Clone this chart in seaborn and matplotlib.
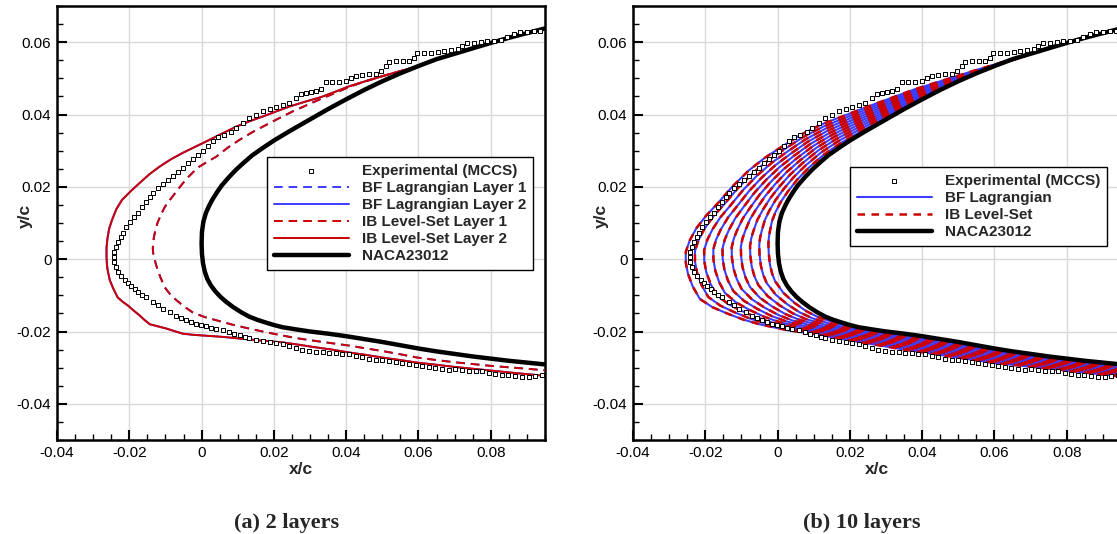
import matplotlib
matplotlib.use("Agg")
import numpy as np
import matplotlib.pyplot as plt
import seaborn as sns
from matplotlib.ticker import MultipleLocator, FuncFormatter

# ---- data (x/c, y/c) ----

# NACA23012 leading edge region (upper surface aft -> LE -> lower surface aft)
naca_pts = [
    (0.098, 0.0645), (0.095, 0.0638), (0.090, 0.0625), (0.085, 0.0612), (0.080, 0.0598), (0.075, 0.0583),
    (0.070, 0.0568), (0.065, 0.0553), (0.060, 0.0534), (0.055, 0.0514), (0.050, 0.0492), (0.045, 0.0468),
    (0.040, 0.0442), (0.035, 0.0415), (0.0315, 0.0395), (0.028, 0.0375), (0.024, 0.0352), (0.020, 0.0328),
    (0.017, 0.0308), (0.014, 0.0287), (0.0118, 0.0268), (0.0095, 0.0247), (0.0075, 0.0226), (0.0055, 0.0203),
    (0.0042, 0.0184), (0.003, 0.0165), (0.0021, 0.0148), (0.0012, 0.0128), (0.0005, 0.0104), (0.0001, 0.0075),
    (0.0, 0.0044), (0.0001, 0.0015), (0.0004, -0.0012), (0.0009, -0.0035), (0.0016, -0.0055), (0.0026, -0.0073),
    (0.0038, -0.0089), (0.0052, -0.0104), (0.0068, -0.0118), (0.0088, -0.0133), (0.011, -0.0147),
    (0.0132, -0.0159), (0.0155, -0.0168), (0.018, -0.0176), (0.020, -0.0182), (0.0223, -0.0188),
    (0.026, -0.0194), (0.030, -0.0200), (0.035, -0.0206), (0.040, -0.0213), (0.045, -0.0221), (0.050, -0.0229),
    (0.055, -0.0238), (0.060, -0.0247), (0.065, -0.0255), (0.070, -0.0262), (0.075, -0.0269), (0.080, -0.0275),
    (0.085, -0.0281), (0.090, -0.0286), (0.095, -0.0291), (0.098, -0.0295),
]

# experimental ice shape (MCCS)
exp_pts = [
    (0.0937, 0.0632), (0.0919, 0.0630), (0.0900, 0.0629), (0.0882, 0.0627), (0.0864, 0.0622),
    (0.0845, 0.0613), (0.0827, 0.0606), (0.0809, 0.0604), (0.0790, 0.0603), (0.0772, 0.0601),
    (0.0754, 0.0599), (0.0735, 0.0597), (0.0721, 0.0590), (0.0708, 0.0580), (0.0689, 0.0578),
    (0.0671, 0.0576), (0.0653, 0.0573), (0.0634, 0.0571), (0.0616, 0.0571), (0.0597, 0.0569),
    (0.0588, 0.0557), (0.0574, 0.0548), (0.0556, 0.0548), (0.0537, 0.0547), (0.0519, 0.0545),
    (0.0510, 0.0533), (0.0496, 0.0520), (0.0482, 0.0513), (0.0464, 0.0511), (0.0445, 0.0509),
    (0.0427, 0.0507), (0.0413, 0.0501), (0.0399, 0.0492), (0.0381, 0.0491), (0.0362, 0.0490),
    (0.0344, 0.0489), (0.0330, 0.0471), (0.0316, 0.0465), (0.0303, 0.0462), (0.0289, 0.0460),
    (0.0275, 0.0456), (0.0261, 0.0446), (0.0243, 0.0432), (0.0224, 0.0425), (0.0206, 0.0421),
    (0.0188, 0.0414), (0.0169, 0.0409), (0.0151, 0.0400), (0.0132, 0.0391), (0.0114, 0.0377),
    (0.0096, 0.0363), (0.0082, 0.0351), (0.0063, 0.0342), (0.0045, 0.0337), (0.0031, 0.0326),
    (0.0017, 0.0312), (0.0004, 0.0298), (-0.0010, 0.0289), (-0.0024, 0.0277), (-0.0038, 0.0266),
    (-0.0052, 0.0252), (-0.0065, 0.0240), (-0.0079, 0.0231), (-0.0093, 0.0219), (-0.0107, 0.0208),
    (-0.0121, 0.0196), (-0.0134, 0.0182), (-0.0143, 0.0172), (-0.0153, 0.0159), (-0.0164, 0.0144),
    (-0.0176, 0.0127), (-0.0188, 0.0116), (-0.0199, 0.0104), (-0.0208, 0.0088), (-0.0217, 0.0071),
    (-0.0224, 0.0060), (-0.0231, 0.0048), (-0.0237, 0.0034), (-0.0242, 0.0020), (-0.0243, 0.0006),
    (-0.0242, -0.0007), (-0.0237, -0.0021), (-0.0231, -0.0035), (-0.0222, -0.0047), (-0.0212, -0.0058),
    (-0.0203, -0.0067), (-0.0194, -0.0075), (-0.0185, -0.0083), (-0.0176, -0.0091), (-0.0165, -0.0098),
    (-0.0153, -0.0105), (-0.0134, -0.0119), (-0.0121, -0.0128), (-0.0107, -0.0137), (-0.0088, -0.0146),
    (-0.0070, -0.0156), (-0.0056, -0.0162), (-0.0042, -0.0168), (-0.0028, -0.0174), (-0.0015, -0.0179),
    (-0.0001, -0.0183), (0.0013, -0.0186), (0.0027, -0.0190), (0.0040, -0.0193), (0.0059, -0.0197),
    (0.0077, -0.0202), (0.0091, -0.0206), (0.0105, -0.0211), (0.0119, -0.0216), (0.0132, -0.0218),
    (0.0151, -0.0223), (0.0169, -0.0227), (0.0188, -0.0230), (0.0206, -0.0232), (0.0224, -0.0234),
    (0.0243, -0.0239), (0.0261, -0.0246), (0.0279, -0.0250), (0.0298, -0.0255), (0.0316, -0.0257),
    (0.0335, -0.0257), (0.0353, -0.0259), (0.0371, -0.0260), (0.0389, -0.0261), (0.0408, -0.0262),
    (0.0427, -0.0267), (0.0445, -0.0271), (0.0463, -0.0276), (0.0482, -0.0278), (0.0500, -0.0280),
    (0.0519, -0.0282), (0.0537, -0.0285), (0.0555, -0.0287), (0.0574, -0.0290), (0.0592, -0.0293),
    (0.0610, -0.0296), (0.0629, -0.0299), (0.0647, -0.0302), (0.0666, -0.0304), (0.0684, -0.0306),
    (0.0702, -0.0304), (0.0721, -0.0306), (0.0739, -0.0308), (0.0758, -0.0308), (0.0776, -0.0310),
    (0.0794, -0.0316), (0.0813, -0.0318), (0.0831, -0.0320), (0.0849, -0.0320), (0.0868, -0.0322),
    (0.0886, -0.0325), (0.0905, -0.0327), (0.0923, -0.0324), (0.0941, -0.0320),
]

# (a) 2 layers: outline after layer 1 and after layer 2 (BF and IB nearly coincide)
layer1_pts = [
    (0.0596, 0.0533), (0.055, 0.0520), (0.050, 0.0506), (0.045, 0.0491), (0.0408, 0.0476), (0.0361, 0.0456),
    (0.033, 0.0443), (0.030, 0.0430), (0.0251, 0.0408), (0.0215, 0.0390), (0.018, 0.0372), (0.0142, 0.0352),
    (0.0105, 0.0330), (0.0072, 0.0308), (0.004, 0.0283), (0.0017, 0.0270), (-0.0006, 0.0256), (-0.0023, 0.0241),
    (-0.004, 0.0224), (-0.0055, 0.0206), (-0.0069, 0.0188), (-0.0086, 0.0166), (-0.0102, 0.0144),
    (-0.0113, 0.0122), (-0.0122, 0.0100), (-0.0128, 0.0080), (-0.0132, 0.0060), (-0.0134, 0.0045),
    (-0.0135, 0.0030), (-0.0134, 0.0017), (-0.0131, 0.0005), (-0.0128, -0.0008), (-0.0124, -0.0022),
    (-0.0114, -0.0050), (-0.0102, -0.0078), (-0.0087, -0.0097), (-0.0069, -0.0114), (-0.0048, -0.0131),
    (-0.0025, -0.0147), (0.0008, -0.0160), (0.0041, -0.0169), (0.0085, -0.0181), (0.0132, -0.0192),
    (0.0178, -0.0202), (0.0223, -0.0211), (0.026, -0.0218), (0.030, -0.0224), (0.035, -0.0231),
    (0.0408, -0.0239), (0.045, -0.0246), (0.050, -0.0254), (0.055, -0.0263), (0.0596, -0.0272),
    (0.065, -0.0279), (0.070, -0.0285), (0.075, -0.0290), (0.080, -0.0295), (0.085, -0.0299),
    (0.090, -0.0303), (0.098, -0.0310),
]
layer2_pts = [
    (0.0596, 0.0533), (0.055, 0.0520), (0.050, 0.0506), (0.045, 0.0491), (0.0408, 0.0478), (0.037, 0.0463),
    (0.033, 0.0448), (0.0285, 0.0435), (0.0243, 0.0422), (0.0205, 0.0408), (0.0168, 0.0394), (0.0132, 0.0381),
    (0.0097, 0.0367), (0.006, 0.0349), (0.0022, 0.0330), (-0.0015, 0.0312), (-0.0052, 0.0294),
    (-0.0085, 0.0276), (-0.0116, 0.0256), (-0.0143, 0.0236), (-0.0171, 0.0211), (-0.0196, 0.0188),
    (-0.022, 0.0164), (-0.0236, 0.0138), (-0.0248, 0.0108), (-0.0256, 0.0083), (-0.026, 0.0060),
    (-0.0263, 0.0033), (-0.0263, 0.0006), (-0.0262, -0.0013), (-0.026, -0.0030), (-0.0254, -0.0058),
    (-0.0244, -0.0082), (-0.0232, -0.0106), (-0.0218, -0.0118), (-0.0204, -0.0128), (-0.0188, -0.0142),
    (-0.0171, -0.0156), (-0.0157, -0.0169), (-0.0143, -0.0180), (-0.012, -0.0186), (-0.0097, -0.0192),
    (-0.0075, -0.0199), (-0.0052, -0.0206), (-0.0025, -0.0209), (0.0003, -0.0211), (0.006, -0.0215),
    (0.011, -0.0220), (0.0165, -0.0225), (0.0223, -0.0230), (0.0265, -0.0236), (0.031, -0.0243),
    (0.036, -0.0250), (0.0408, -0.0258), (0.045, -0.0264), (0.050, -0.0272), (0.055, -0.0279),
    (0.0596, -0.0286), (0.065, -0.0292), (0.070, -0.0298), (0.075, -0.0303), (0.080, -0.0308),
    (0.085, -0.0313), (0.090, -0.0318), (0.098, -0.0325),
]

# (b) 10 layers: one row per station along the surface, one column per layer (inner -> outer)
ice_x_st = [
    [0.070, 0.070, 0.070, 0.070, 0.070, 0.070, 0.070, 0.070, 0.070, 0.070],
    [0.0549, 0.0548, 0.0547, 0.0546, 0.0545, 0.0544, 0.0543, 0.0542, 0.0541, 0.0540],
    [0.0398, 0.0396, 0.0394, 0.0392, 0.0390, 0.0388, 0.0386, 0.0384, 0.0382, 0.0380],
    [0.0277, 0.0274, 0.0271, 0.0268, 0.0265, 0.0262, 0.0259, 0.0256, 0.0253, 0.0250],
    [0.0174, 0.0168, 0.0162, 0.0156, 0.0150, 0.0144, 0.0138, 0.0132, 0.0126, 0.0120],
    [0.01277, 0.01204, 0.01131, 0.01058, 0.00985, 0.00912, 0.00839, 0.00766, 0.00693, 0.0062],
    [0.00865, 0.0078, 0.00695, 0.0061, 0.00525, 0.0044, 0.00355, 0.0027, 0.00185, 0.0010],
    [0.00548, 0.00446, 0.00344, 0.00242, 0.0014, 0.00038, -0.00064, -0.00166, -0.00268, -0.0037],
    [0.0028, 0.0016, 0.0004, -0.0008, -0.0020, -0.0032, -0.0044, -0.0056, -0.0068, -0.0080],
    [0.00092, -0.00056, -0.00204, -0.00352, -0.0050, -0.00648, -0.00796, -0.00944, -0.01092, -0.0124],
    [-0.00057, -0.00234, -0.00411, -0.00588, -0.00765, -0.00942, -0.01119, -0.01296, -0.01473, -0.0165],
    [-0.00153, -0.00356, -0.00559, -0.00762, -0.00965, -0.01168, -0.01371, -0.01574, -0.01777, -0.0198],
    [-0.00216, -0.00442, -0.00668, -0.00894, -0.0112, -0.01346, -0.01572, -0.01798, -0.02024, -0.0225],
    [-0.00243, -0.00486, -0.00729, -0.00972, -0.01215, -0.01458, -0.01701, -0.01944, -0.02187, -0.0243],
    [-0.00254, -0.00508, -0.00762, -0.01016, -0.0127, -0.01524, -0.01778, -0.02032, -0.02286, -0.0254],
    [-0.00245, -0.0050, -0.00755, -0.0101, -0.01265, -0.0152, -0.01775, -0.0203, -0.02285, -0.0254],
    [-0.00212, -0.00464, -0.00716, -0.00968, -0.0122, -0.01472, -0.01724, -0.01976, -0.02228, -0.0248],
    [-0.00154, -0.00398, -0.00642, -0.00886, -0.0113, -0.01374, -0.01618, -0.01862, -0.02106, -0.0235],
    [-0.00071, -0.00302, -0.00533, -0.00764, -0.00995, -0.01226, -0.01457, -0.01688, -0.01919, -0.0215],
    [0.00162, -0.00056, -0.00274, -0.00492, -0.0071, -0.00928, -0.01146, -0.01364, -0.01582, -0.0180],
    [0.00472, 0.00264, 0.00056, -0.00152, -0.0036, -0.00568, -0.00776, -0.00984, -0.01192, -0.0140],
    [0.00805, 0.0061, 0.00415, 0.0022, 0.00025, -0.0017, -0.00365, -0.0056, -0.00755, -0.0095],
    [0.01138, 0.00956, 0.00774, 0.00592, 0.0041, 0.00228, 0.00046, -0.00136, -0.00318, -0.0050],
    [0.01645, 0.0149, 0.01335, 0.0118, 0.01025, 0.0087, 0.00715, 0.0056, 0.00405, 0.0025],
    [0.02107, 0.01984, 0.01861, 0.01738, 0.01615, 0.01492, 0.01369, 0.01246, 0.01123, 0.0100],
    [0.0292, 0.0284, 0.0276, 0.0268, 0.0260, 0.0252, 0.0244, 0.0236, 0.0228, 0.0220],
    [0.0395, 0.0390, 0.0385, 0.0380, 0.0375, 0.0370, 0.0365, 0.0360, 0.0355, 0.0350],
    [0.060, 0.060, 0.060, 0.060, 0.060, 0.060, 0.060, 0.060, 0.060, 0.060],
    [0.080, 0.080, 0.080, 0.080, 0.080, 0.080, 0.080, 0.080, 0.080, 0.080],
    [0.098, 0.098, 0.098, 0.098, 0.098, 0.098, 0.098, 0.098, 0.098, 0.098],
]
ice_y_st = [
    [0.0568, 0.0568, 0.0568, 0.0568, 0.0568, 0.0568, 0.0568, 0.0568, 0.0568, 0.0568],
    [0.05146, 0.05152, 0.05158, 0.05164, 0.0517, 0.05176, 0.05182, 0.05188, 0.05194, 0.0520],
    [0.04448, 0.04476, 0.04504, 0.04532, 0.0456, 0.04588, 0.04616, 0.04644, 0.04672, 0.0470],
    [0.03797, 0.03844, 0.03891, 0.03938, 0.03985, 0.04032, 0.04079, 0.04126, 0.04173, 0.0422],
    [0.03207, 0.03264, 0.03321, 0.03378, 0.03435, 0.03492, 0.03549, 0.03606, 0.03663, 0.0372],
    [0.0289, 0.0295, 0.0301, 0.0307, 0.0313, 0.0319, 0.0325, 0.0331, 0.0337, 0.0343],
    [0.02533, 0.02596, 0.02659, 0.02722, 0.02785, 0.02848, 0.02911, 0.02974, 0.03037, 0.0310],
    [0.02205, 0.0227, 0.02335, 0.0240, 0.02465, 0.0253, 0.02595, 0.0266, 0.02725, 0.0279],
    [0.01865, 0.0193, 0.01995, 0.0206, 0.02125, 0.0219, 0.02255, 0.0232, 0.02385, 0.0245],
    [0.01588, 0.01636, 0.01684, 0.01732, 0.0178, 0.01828, 0.01876, 0.01924, 0.01972, 0.0202],
    [0.01307, 0.01334, 0.01361, 0.01388, 0.01415, 0.01442, 0.01469, 0.01496, 0.01523, 0.0155],
    [0.01056, 0.01072, 0.01088, 0.01104, 0.0112, 0.01136, 0.01152, 0.01168, 0.01184, 0.0120],
    [0.0076, 0.0077, 0.0078, 0.0079, 0.0080, 0.0081, 0.0082, 0.0083, 0.0084, 0.0085],
    [0.00592, 0.00584, 0.00576, 0.00568, 0.0056, 0.00552, 0.00544, 0.00536, 0.00528, 0.0052],
    [0.00416, 0.00392, 0.00368, 0.00344, 0.0032, 0.00296, 0.00272, 0.00248, 0.00224, 0.0020],
    [0.0017, 0.0014, 0.0011, 0.0008, 0.0005, 0.0002, -0.0001, -0.0004, -0.0007, -0.0010],
    [-0.00148, -0.00176, -0.00204, -0.00232, -0.0026, -0.00288, -0.00316, -0.00344, -0.00372, -0.0040],
    [-0.0039, -0.0043, -0.0047, -0.0051, -0.0055, -0.0059, -0.0063, -0.0067, -0.0071, -0.0075],
    [-0.00605, -0.0066, -0.00715, -0.0077, -0.00825, -0.0088, -0.00935, -0.0099, -0.01045, -0.0110],
    [-0.00934, -0.00978, -0.01022, -0.01066, -0.0111, -0.01154, -0.01198, -0.01242, -0.01286, -0.0133],
    [-0.01212, -0.01244, -0.01276, -0.01308, -0.0134, -0.01372, -0.01404, -0.01436, -0.01468, -0.0150],
    [-0.01445, -0.0147, -0.01495, -0.0152, -0.01545, -0.0157, -0.01595, -0.0162, -0.01645, -0.0167],
    [-0.01611, -0.01632, -0.01653, -0.01674, -0.01695, -0.01716, -0.01737, -0.01758, -0.01779, -0.0180],
    [-0.0178, -0.0180, -0.0182, -0.0184, -0.0186, -0.0188, -0.0190, -0.0192, -0.0194, -0.0196],
    [-0.01899, -0.01918, -0.01937, -0.01956, -0.01975, -0.01994, -0.02013, -0.02032, -0.02051, -0.0207],
    [-0.02028, -0.02056, -0.02084, -0.02112, -0.0214, -0.02168, -0.02196, -0.02224, -0.02252, -0.0228],
    [-0.02167, -0.02204, -0.02241, -0.02278, -0.02315, -0.02352, -0.02389, -0.02426, -0.02463, -0.0250],
    [-0.0251, -0.0255, -0.0259, -0.0263, -0.0267, -0.0271, -0.0275, -0.0279, -0.0283, -0.0287],
    [-0.02783, -0.02816, -0.02849, -0.02882, -0.02915, -0.02948, -0.02981, -0.03014, -0.03047, -0.0308],
    [-0.02983, -0.03016, -0.03049, -0.03082, -0.03115, -0.03148, -0.03181, -0.03214, -0.03247, -0.0328],
]

naca_x, naca_y = map(list, zip(*naca_pts))
exp_x, exp_y = map(list, zip(*exp_pts))
l1_x, l1_y = map(list, zip(*layer1_pts))
l2_x, l2_y = map(list, zip(*layer2_pts))
layers_x = np.array(ice_x_st).T
layers_y = np.array(ice_y_st).T

BLUE = '#3c3cff'
RED = '#cc0000'

sns.set_theme(style="white")
plt.rcParams['font.family'] = ['Liberation Sans', 'DejaVu Sans']


def tick_fmt(v, pos):
    s = f"{v:.2f}".rstrip('0').rstrip('.')
    if s in ('-0', '0', ''):
        s = '0'
    return s


def style_axes(ax):
    ax.set_xlim(-0.04, 0.095)
    ax.set_ylim(-0.05, 0.07)
    ax.xaxis.set_major_locator(MultipleLocator(0.02))
    ax.xaxis.set_minor_locator(MultipleLocator(0.005))
    ax.yaxis.set_major_locator(MultipleLocator(0.02))
    ax.yaxis.set_minor_locator(MultipleLocator(0.005))
    ax.xaxis.set_major_formatter(FuncFormatter(tick_fmt))
    ax.yaxis.set_major_formatter(FuncFormatter(tick_fmt))
    ax.grid(True, which='major', color='#d9d9d9', lw=1.0)
    ax.set_axisbelow(True)
    ax.tick_params(which='both', direction='in', top=False, right=False, bottom=True, left=True,
                   colors='black', labelsize=11)
    ax.tick_params(which='major', length=7, width=1.5, pad=4)
    ax.tick_params(which='minor', length=4, width=1.0)
    for sp in ax.spines.values():
        sp.set_linewidth(1.8)
        sp.set_color('black')
    ax.set_xlabel('x/c', fontweight='bold', fontsize=12.5)
    ax.set_ylabel('y/c', fontweight='bold', fontsize=12.5)
    ax.xaxis.set_label_coords(0.5, -0.051)
    ax.xaxis.label.set_va('top')
    ax.yaxis.set_label_coords(-0.049, 0.516)


fig = plt.figure(figsize=(11.17, 5.34), dpi=100)
ax1 = fig.add_axes([57 / 1117, 94 / 534, 488 / 1117, 434 / 534])
ax2 = fig.add_axes([633 / 1117, 94 / 534, 488 / 1117, 434 / 534])

dash = (0, (4.5, 3.0))

# ---- (a) 2 layers ----
sns.scatterplot(x=exp_x, y=exp_y, ax=ax1, marker='s', s=6, facecolor='white', edgecolor='black',
                linewidth=0.7, zorder=6, label='Experimental (MCCS)')
sns.lineplot(x=l1_x, y=l1_y, ax=ax1, sort=False, estimator=None, color=BLUE, lw=1.4,
             linestyle=dash, zorder=2, label='BF Lagrangian Layer 1')
sns.lineplot(x=l2_x, y=l2_y, ax=ax1, sort=False, estimator=None, color=BLUE, lw=1.4,
             zorder=2, label='BF Lagrangian Layer 2')
sns.lineplot(x=l1_x, y=l1_y, ax=ax1, sort=False, estimator=None, color=RED, lw=1.4,
             linestyle=dash, zorder=3, label='IB Level-Set Layer 1')
sns.lineplot(x=l2_x, y=l2_y, ax=ax1, sort=False, estimator=None, color=RED, lw=1.4,
             zorder=3, label='IB Level-Set Layer 2')
sns.lineplot(x=naca_x, y=naca_y, ax=ax1, sort=False, estimator=None, color='black', lw=3.2,
             zorder=5, label='NACA23012')
style_axes(ax1)

leg_kw = dict(loc='upper right', frameon=True, fancybox=False, edgecolor='black', framealpha=1,
              borderaxespad=0, borderpad=0.45, handlelength=4.9, handletextpad=0.85,
              labelspacing=0.2, scatterpoints=1, prop={'weight': 'bold', 'size': 11})
h, lab = ax1.get_legend_handles_labels()
order = ['Experimental (MCCS)', 'BF Lagrangian Layer 1', 'BF Lagrangian Layer 2',
         'IB Level-Set Layer 1', 'IB Level-Set Layer 2', 'NACA23012']
hd = dict(zip(lab, h))
leg1 = ax1.legend([hd[k] for k in order], order, bbox_to_anchor=(0.975, 0.652), **leg_kw)
leg1.get_frame().set_linewidth(1.0)

# ---- (b) 10 layers ----
sns.scatterplot(x=exp_x, y=exp_y, ax=ax2, marker='s', s=6, facecolor='white', edgecolor='black',
                linewidth=0.7, zorder=6, label='Experimental (MCCS)')
for i in range(len(layers_x)):
    sns.lineplot(x=layers_x[i], y=layers_y[i], ax=ax2, sort=False, estimator=None, color=BLUE,
                 lw=1.5, zorder=2, label='BF Lagrangian' if i == 0 else None)
    sns.lineplot(x=layers_x[i], y=layers_y[i], ax=ax2, sort=False, estimator=None, color=RED,
                 lw=1.8, linestyle=(0, (3.0, 2.6)), zorder=3,
                 label='IB Level-Set' if i == 0 else None)
sns.lineplot(x=naca_x, y=naca_y, ax=ax2, sort=False, estimator=None, color='black', lw=3.2,
             zorder=5, label='NACA23012')
style_axes(ax2)
h, lab = ax2.get_legend_handles_labels()
order2 = ['Experimental (MCCS)', 'BF Lagrangian', 'IB Level-Set', 'NACA23012']
hd = dict(zip(lab, h))
leg2 = ax2.legend([hd[k] for k in order2], order2, bbox_to_anchor=(0.971, 0.629), **leg_kw)
leg2.get_frame().set_linewidth(1.0)

# sub-captions
fig.text(287 / 1117, 1 - 523 / 534, '(a) 2 layers', ha='center', va='center',
         family='Liberation Serif', weight='bold', size=16)
fig.text(862 / 1117, 1 - 523 / 534, '(b) 10 layers', ha='center', va='center',
         family='Liberation Serif', weight='bold', size=16)

fig.savefig('out.png', dpi=100)
